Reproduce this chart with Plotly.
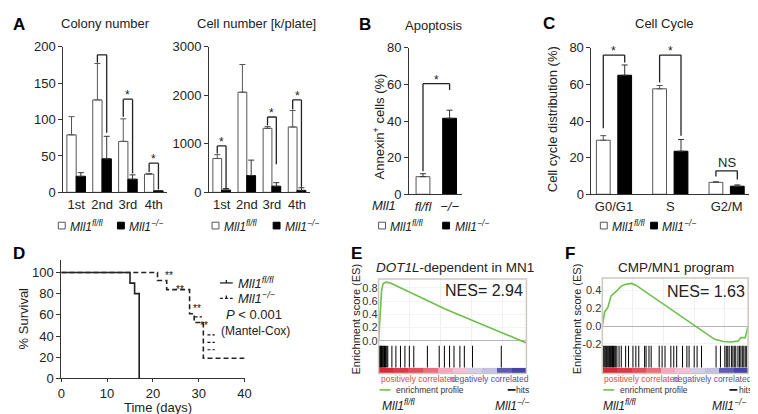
import plotly.graph_objects as go

W, H = 758, 414
FONT = "Liberation Sans, Arial, sans-serif"
INK = "#222222"

# ---------------- data ----------------
passages = ["1st", "2nd", "3rd", "4th"]
colony_fl = [79, 127, 70, 25]
colony_fl_err = [25, 50, 31, 1]
colony_ko = [22, 46, 18, 2]
colony_ko_err = [5, 31, 6, 0.5]
# (category index, bracket height, left leg end, right leg end, label)
colony_brackets = [(1, 189, 178, 82, ""), (2, 128, 104, 26, "*"), (3, 40, 28, 4, "*")]

cell_fl = [697, 2064, 1320, 1347]
cell_fl_err = [80, 571, 34, 339]
cell_ko = [46, 345, 126, 40]
cell_ko_err = [34, 319, 73, 53]
cell_brackets = [(0, 956, 800, 85, "*"), (2, 1553, 1380, 577, "*"), (3, 1905, 1705, 100, "*")]

genotypes = ["fl/fl", "−/−"]
annexin = [9.6, 41.5]
annexin_err = [1.6, 4.4]
annexin_bracket = (60.4, 12.5, 57, "*")

phases = ["G0/G1", "S", "G2/M"]
cycle_fl = [29.5, 57.6, 6.5]
cycle_fl_err = [2.5, 1.8, 0.4]
cycle_ko = [65, 23.5, 4.4]
cycle_ko_err = [5.6, 6.4, 0.7]
cycle_brackets = [(0, 76, 36, 72, "*"), (1, 76, 61, 32, "*"), (2, 12.8, 9.7, 8, "NS")]

surv_fl_days = [0, 15, 16, 17]
surv_fl_pct = [100, 90, 80, 0]
surv_ko_days = [0, 21, 23, 28, 29, 31, 40]
surv_ko_pct = [100, 92.4, 83.8, 61, 52.8, 19, 19]
surv_stars = [(23.4, 97.5), (25.8, 84), (29.7, 65.6), (31.2, 50)]
surv_censor = [(29.9, 58), (32.7, 41), (32.7, 34), (32.7, 27)]

es_e_rank = [0, 0.01, 0.02, 0.03, 0.045, 0.06, 0.08, 0.45, 1.0]
es_e = [0, 0.45, 0.75, 0.86, 0.88, 0.88, 0.87, 0.48, -0.03]
hits_e = [0.0, 0.004, 0.008, 0.012, 0.016, 0.02, 0.025, 0.03, 0.035, 0.04, 0.047,
          0.055, 0.062, 0.09, 0.117, 0.148, 0.178, 0.208, 0.238, 0.33, 0.41, 0.445,
          0.48, 0.51, 0.55, 0.58, 0.635, 0.83]

es_f_rank = [0.0, 0.005, 0.016, 0.038, 0.06, 0.095, 0.13, 0.16, 0.2, 0.23, 0.77,
             0.83, 0.88, 0.93, 0.95, 0.98, 1.0]
es_f = [0.0, 0.05, 0.16, 0.21, 0.34, 0.39, 0.45, 0.47, 0.48, 0.46, -0.15,
        -0.175, -0.18, -0.17, -0.13, -0.13, 0.0]
hits_f = [0.0, 0.006, 0.012, 0.018, 0.024, 0.03, 0.037, 0.044, 0.05, 0.057, 0.064,
          0.07, 0.077, 0.085, 0.092, 0.1, 0.115, 0.13, 0.16, 0.18, 0.21, 0.23, 0.25,
          0.29, 0.30, 0.32, 0.335, 0.39, 0.41, 0.43, 0.47, 0.49, 0.51, 0.55, 0.58,
          0.595, 0.63, 0.65, 0.68, 0.78, 0.81, 0.84, 0.85, 0.86, 0.87, 0.885, 0.895,
          0.905, 0.915, 0.93, 0.94, 0.95, 0.96, 0.97, 0.98, 0.99]

rank_bar_x = [0.05, 0.15, 0.25, 0.35, 0.45, 0.55, 0.65, 0.75, 0.85, 0.95]
rank_bar_z = [1.0, 0.92, 0.8, 0.62, 0.3, 0.1, -0.15, -0.3, -0.75, -0.92]

# ---------------- helpers ----------------
def xd(a, b):
    return [a / W, b / W]

def yd(top, bottom):
    return [1 - bottom / H, 1 - top / H]

def px(x):
    return x / W

def py(y):
    return 1 - y / H

annotations = []
shapes = []

def ann(text, x, y, size=13, xa="center", ya="middle", color=INK, angle=0, **kw):
    annotations.append(dict(text=text, x=px(x), y=py(y), xref="paper", yref="paper",
                            xanchor=xa, yanchor=ya, showarrow=False, textangle=angle,
                            font=dict(size=size, color=color, family=FONT), **kw))

def pline(x0, y0, x1, y1, color=INK, width=1, dash=None):
    shapes.append(dict(type="line", xref="paper", yref="paper", x0=px(x0), y0=py(y0),
                       x1=px(x1), y1=py(y1), line=dict(color=color, width=width, dash=dash)))

def prect(x0, y0, x1, y1, fill, line, width=1):
    shapes.append(dict(type="rect", xref="paper", yref="paper", x0=px(x0), y0=py(y0),
                       x1=px(x1), y1=py(y1), fillcolor=fill, line=dict(color=line, width=width)))

fig = go.Figure()

def bar_pair(cats, fl, fl_err, ko, ko_err, ax, width, off):
    fig.add_trace(go.Bar(x=cats, y=fl, width=width, offset=-off - width / 2,
                         marker=dict(color="white", line=dict(color="#555555", width=1)),
                         error_y=dict(type="data", array=fl_err, arrayminus=[0] * len(fl),
                                      symmetric=False, color="#555555", thickness=1, width=3),
                         xaxis="x" + ax, yaxis="y" + ax))
    fig.add_trace(go.Bar(x=cats, y=ko, width=width, offset=off - width / 2,
                         marker=dict(color="black", line=dict(color="black", width=1)),
                         error_y=dict(type="data", array=ko_err, arrayminus=[0] * len(ko),
                                      symmetric=False, color="#333333", thickness=1, width=3),
                         xaxis="x" + ax, yaxis="y" + ax))

def brackets(specs, ax, d, star_size=12):
    xr, yr = "x" + ax, "y" + ax
    for (i, yb, yl, yrr, lab) in specs:
        for (x0, y0, x1, y1) in [(i - d, yl, i - d, yb), (i - d, yb, i + d, yb), (i + d, yb, i + d, yrr)]:
            shapes.append(dict(type="line", xref=xr, yref=yr, x0=x0, y0=y0, x1=x1, y1=y1,
                               line=dict(color=INK, width=1.3)))
        if lab:
            annotations.append(dict(text=lab, x=i, y=yb, xref=xr, yref=yr, showarrow=False,
                                    yanchor="bottom", yshift=-5 if lab == "*" else -1,
                                    font=dict(size=star_size if lab == "*" else 13,
                                              color=INK, family=FONT)))

# A colony
bar_pair(passages, colony_fl, colony_fl_err, colony_ko, colony_ko_err, "", 0.36, 0.18)
brackets(colony_brackets, "", 0.18)
# A cell
bar_pair(passages, cell_fl, cell_fl_err, cell_ko, cell_ko_err, "2", 0.35, 0.175)
brackets(cell_brackets, "2", 0.175)
# B apoptosis: one bar per genotype
fig.add_trace(go.Bar(x=genotypes, y=annexin, width=0.52, offset=-0.26,
                     marker=dict(color=["white", "black"], line=dict(color=["#555555", "black"], width=1)),
                     error_y=dict(type="data", array=annexin_err, arrayminus=[0, 0], symmetric=False,
                                  color="#333333", thickness=1, width=3),
                     xaxis="x3", yaxis="y3"))
yb, yl, yrr, lab = annexin_bracket
brackets([(0.5, yb, yl, yrr, lab)], "3", 0.5)
# C cell cycle
bar_pair(phases, cycle_fl, cycle_fl_err, cycle_ko, cycle_ko_err, "4", 0.245, 0.19)
brackets(cycle_brackets, "4", 0.19)

# D survival
fig.add_trace(go.Scatter(x=surv_fl_days, y=surv_fl_pct, mode="lines", line_shape="hv",
                         line=dict(color=INK, width=1.6), xaxis="x5", yaxis="y5"))
fig.add_trace(go.Scatter(x=surv_ko_days, y=surv_ko_pct, mode="lines", line_shape="hv",
                         line=dict(color=INK, width=1.6, dash="5px,3px"), xaxis="x5", yaxis="y5"))
for (d, s) in surv_stars:
    annotations.append(dict(text="**", x=d, y=s, xref="x5", yref="y5", showarrow=False,
                            font=dict(size=10, color="#111111", family=FONT)))
for (d, s) in surv_censor:
    shapes.append(dict(type="line", xref="x5", yref="y5", x0=d - 0.8, x1=d + 0.8, y0=s, y1=s,
                       line=dict(color="#111111", width=1.2, dash="3px,2px")))

# E / F GSEA
def hit_trace(hits, ax):
    xs, ys = [], []
    for h in hits:
        xs += [h, h, None]
        ys += [0, 1, None]
    fig.add_trace(go.Scatter(x=xs, y=ys, mode="lines", line=dict(color="black", width=1),
                             xaxis="x" + ax, yaxis="y" + ax))

bar_scale = [[0, "#3a3a9e"], [0.12, "#5a5ab5"], [0.3, "#b9b9df"], [0.45, "#d8d2ea"],
             [0.55, "#f3c0d6"], [0.68, "#f2a0b4"], [0.82, "#ec6a78"], [1, "#d9283a"]]

fig.add_trace(go.Scatter(x=es_e_rank, y=es_e, mode="lines", line=dict(color="#6cc04a", width=1.6),
                         xaxis="x6", yaxis="y6"))
hit_trace(hits_e, "7")
fig.add_trace(go.Heatmap(x=rank_bar_x, y=[0], z=[rank_bar_z], colorscale=bar_scale, zmin=-1, zmax=1,
                         showscale=False, xaxis="x8", yaxis="y8"))
fig.add_trace(go.Scatter(x=es_f_rank, y=es_f, mode="lines", line=dict(color="#6cc04a", width=1.6),
                         xaxis="x9", yaxis="y9"))
hit_trace(hits_f, "10")
fig.add_trace(go.Heatmap(x=rank_bar_x, y=[0], z=[rank_bar_z], colorscale=bar_scale, zmin=-1, zmax=1,
                         showscale=False, xaxis="x11", yaxis="y11"))

# ---------------- axes ----------------
tf = dict(size=13, color=INK, family=FONT)

def ax_common(**kw):
    base = dict(showline=True, linecolor="#333333", linewidth=1, showgrid=False, zeroline=False,
                tickfont=tf, ticks="outside", ticklen=4, tickcolor="#333333", fixedrange=True)
    base.update(kw)
    return base

layout = {}
layout["xaxis"] = ax_common(domain=xd(52, 157), anchor="y", ticks="", range=[-0.5, 3.5])
layout["yaxis"] = ax_common(domain=yd(33, 184), anchor="x", range=[0, 200], dtick=50)
layout["xaxis2"] = ax_common(domain=xd(200, 302), anchor="y2", ticks="", range=[-0.5, 3.5])
layout["yaxis2"] = ax_common(domain=yd(33, 184), anchor="x2", range=[0, 3000], dtick=1000)
layout["xaxis3"] = ax_common(domain=xd(403, 457), anchor="y3", ticks="", range=[-0.52, 1.48],
                             tickmode="array", tickvals=genotypes,
                             ticktext=["<i>" + g + "</i>" for g in genotypes])
layout["yaxis3"] = ax_common(domain=yd(34, 186), anchor="x3", range=[0, 80], dtick=20)
layout["xaxis4"] = ax_common(domain=xd(588, 748), anchor="y4", ticks="", range=[-0.40, 2.40])
layout["yaxis4"] = ax_common(domain=yd(34, 186), anchor="x4", range=[0, 80], dtick=20)
layout["xaxis5"] = ax_common(domain=xd(50, 236), anchor="y5", range=[0, 40], dtick=10, ticklen=3)
layout["yaxis5"] = ax_common(domain=yd(254, 377), anchor="x5", range=[0, 112], tickvals=[0, 20, 40, 60, 80, 100])

es_tf = dict(size=11, color="#333333", family=FONT)
def es_axes(n, x0, x1, top, bottom, yrange, yticks):
    layout["xaxis%d" % n] = dict(domain=xd(x0, x1), anchor="y%d" % n, range=[0, 1], showline=False,
                                 showticklabels=False, ticks="", zeroline=False, showgrid=True,
                                 gridcolor="#efefef", tickvals=[0.21, 0.42, 0.63, 0.84], fixedrange=True)
    layout["yaxis%d" % n] = dict(domain=yd(top, bottom), anchor="x%d" % n, range=yrange,
                                 tickvals=yticks, ticktext=["%.1f" % t for t in yticks],
                                 tickfont=es_tf, ticks="", showline=False, showgrid=True,
                                 gridcolor="#f3f3f3", zeroline=True, zerolinecolor="#b5b5b5",
                                 zerolinewidth=1, fixedrange=True)

def plain_axes(n, x0, x1, top, bottom, yrange):
    layout["xaxis%d" % n] = dict(domain=xd(x0, x1), anchor="y%d" % n, range=[0, 1], visible=False, fixedrange=True)
    layout["yaxis%d" % n] = dict(domain=yd(top, bottom), anchor="x%d" % n, range=yrange, visible=False, fixedrange=True)

es_axes(6, 372, 522, 274, 343, [-0.07, 0.93], [0.0, 0.2, 0.4, 0.6, 0.8])
plain_axes(7, 372, 522, 343, 366, [0, 1])
plain_axes(8, 372, 522, 366, 372, [-0.5, 0.5])
es_axes(9, 599, 747, 273, 343, [-0.22, 0.54], [-0.2, 0.0, 0.2, 0.4])
plain_axes(10, 599, 747, 343, 366, [0, 1])
plain_axes(11, 599, 747, 366, 372, [-0.5, 0.5])

# GSEA frames
prect(372, 274, 522, 372, "rgba(0,0,0,0)", "#cfc9bd", 1.5)
prect(599, 273, 747, 372, "rgba(0,0,0,0)", "#cfc9bd", 1.5)

# ---------------- text ----------------
FL = "<i>Mll1</i><sup><i>fl/fl</i></sup>"
KO = "<i>Mll1</i><sup><i>−/−</i></sup>"

ann("<b>A</b>", 7, 10, size=17, color="black")
ann("<b>B</b>", 358, 10, size=17, color="black")
ann("<b>C</b>", 545, 9, size=17, color="black")
ann("<b>D</b>", 7, 247, size=17, color="black")
ann("<b>E</b>", 350, 247, size=17, color="black")
ann("<b>F</b>", 566, 247, size=17, color="black")

ann("Colony number", 95, 9, size=13)
ann("Cell number [k/plate]", 248, 9, size=13)
ann("Apoptosis", 428, 11, size=13)
ann("Cell Cycle", 662, 9, size=13)

ann("Annexin<sup>+</sup> cells (%)", 372, 116, size=13, angle=-90)
ann("Cell cycle distribution (%)", 548, 108, size=13, angle=-90)
ann("<i>Mll1</i>", 377, 198, size=13)

# legends under A, B, C
for (xw, xk) in [(47, 107), (203, 265), (372, 437), (597, 648)]:
    prect(xw, 215, xw + 7, 222, "white", "#555555", 1)
    ann(FL, xw + 10, 219, size=12, xa="left")
    prect(xk, 215, xk + 7, 222, "black", "black", 1)
    ann(KO, xk + 10, 219, size=12, xa="left")

# D
ann("% Survival", 12, 315, size=13, angle=-90)
ann("Time (days)", 148, 407, size=13)
pline(211, 278, 224, 278, width=1.3)
pline(217.5, 275, 217.5, 278, width=1.3)
ann(FL, 227, 278, size=13, xa="left")
pline(211, 294, 224, 294, width=1.3, dash="3px,2px")
pline(217.5, 291, 217.5, 294, width=1.3)
ann(KO, 227, 294, size=13, xa="left")
ann("<i>P</i> < 0.001", 215, 311, size=13, xa="left")
ann("(Mantel-Cox)", 210, 328, size=12, xa="left")

# E
ann("<i>DOT1L</i>-dependent in MN1", 450, 262, size=13.5)
ann("NES= 2.94", 521, 286, size=16, xa="right")
ann("Enrichment score (ES)", 349, 315, size=11, angle=-90)
ann("positively correlated", 372, 378, size=8.5, xa="left", color="#e0464f")
ann("negatively correlated", 527, 378, size=8.5, xa="right", color="#5050a8")
pline(373, 389, 384, 389, color="#6cc04a", width=1.6)
ann("enrichment profile", 388, 389, size=8.5, xa="left", color="#333333")
pline(503, 389, 511, 389, color="black", width=1.6)
ann("hits", 527, 389, size=8.5, xa="right", color="#333333")
ann(FL, 373, 405, size=12, xa="left")
ann(KO, 527, 405, size=12, xa="right")

# F
ann("CMP/MN1 program", 674, 262, size=13.5)
ann("NES= 1.63", 746, 287, size=16, xa="right")
ann("Enrichment score (ES)", 573, 315, size=11, angle=-90)
ann("positively correlated", 599, 378, size=8.5, xa="left", color="#e0464f")
ann("negatively correlated", 753, 378, size=8.5, xa="right", color="#5050a8")
pline(600, 389, 611, 389, color="#6cc04a", width=1.6)
ann("enrichment profile", 615, 389, size=8.5, xa="left", color="#333333")
pline(728, 389, 736, 389, color="black", width=1.6)
ann("hits", 753, 389, size=8.5, xa="right", color="#333333")
ann(FL, 598, 405, size=12, xa="left")
ann(KO, 747, 405, size=12, xa="right")

fig.update_layout(width=W, height=H, margin=dict(l=0, r=0, t=0, b=0),
                  paper_bgcolor="white", plot_bgcolor="white", showlegend=False,
                  barmode="overlay", font=dict(family=FONT, color=INK),
                  annotations=annotations, shapes=shapes, **layout)

fig.write_html("out.html")
